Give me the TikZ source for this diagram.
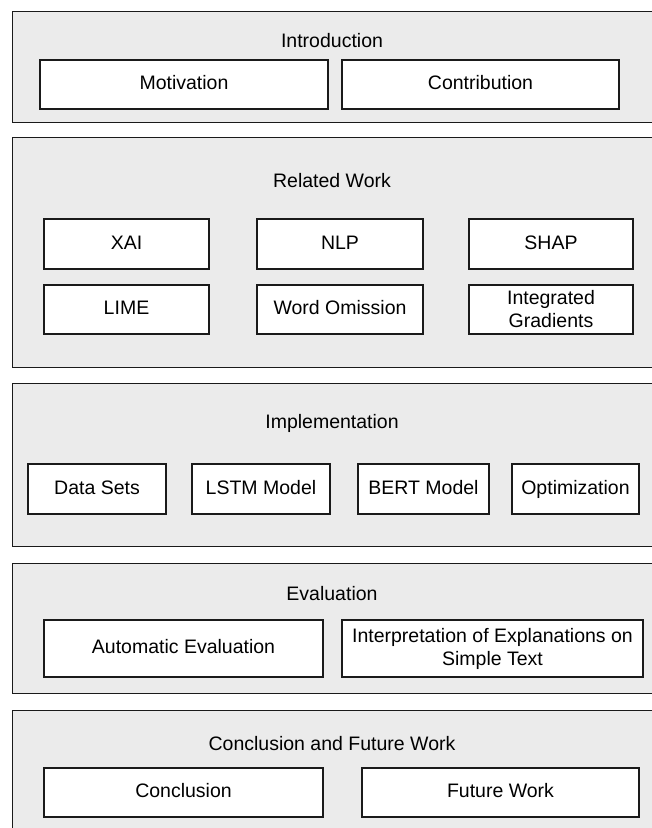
\documentclass[tikz,border=0pt]{standalone}
\usepackage{fontspec}
\setmainfont{Liberation Sans}
\definecolor{panelgray}{HTML}{EBEBEB}
\definecolor{edge}{HTML}{1A1A1A}
\begin{document}
\begin{tikzpicture}[x=1pt, y=-1pt,
  panel/.style={draw=edge, line width=1.3pt, fill=panelgray, anchor=north west, inner sep=0pt},
  title/.style={font=\fontsize{19.5}{23}\selectfont, text=black, inner sep=0pt,
    text height=14pt, text depth=4pt},
  box/.style={draw=edge, line width=1.3pt, fill=white, font=\fontsize{19.5}{23}\selectfont,
    align=center, inner sep=0pt, minimum height=#1},
  box/.default=49pt,
  item/.style={box=#1, text height=14pt, text depth=4pt},
  item/.default=49pt]
\useasboundingbox (0,0) rectangle (652,828);

% Introduction
\node[panel, minimum width=641pt, minimum height=111pt] (p1) at (12,11) {};
\node[title] (t1) at (332,42) {Introduction};
\node[item, minimum width=288pt] (motiv) at (184,84.5) {Motivation};
\node[item, minimum width=277pt] (contrib) at (480.5,84.5) {Contribution};

% Related Work
\node[panel, minimum width=641pt, minimum height=230pt] (p2) at (12,137) {};
\node[title] (t2) at (332,182) {Related Work};
\node[item=50pt, minimum width=165pt] (xai) at (126.5,244) {XAI};
\node[item=50pt, minimum width=166pt] (nlp) at (340,244) {NLP};
\node[item=50pt, minimum width=164pt] (shap) at (551,244) {SHAP};
\node[item, minimum width=165pt] (lime) at (126.5,309.5) {LIME};
\node[item, minimum width=166pt] (wordom) at (340,309.5) {Word Omission};
\node[box, minimum width=164pt] (ig) at (551,309.5) {Integrated\\Gradients};

% Implementation
\node[panel, minimum width=641pt, minimum height=163pt] (p3) at (12,383) {};
\node[title] (t3) at (332,423) {Implementation};
\node[item=50pt, minimum width=138pt] (data) at (97,489) {Data Sets};
\node[item=50pt, minimum width=138pt] (lstm) at (261,489) {LSTM Model};
\node[item=50pt, minimum width=131pt] (bert) at (423.5,489) {BERT Model};
\node[item=50pt, minimum width=127pt] (optim) at (575.5,489) {Optimization};

% Evaluation
\node[panel, minimum width=641pt, minimum height=130pt] (p4) at (12,563) {};
\node[title] (t4) at (332,595) {Evaluation};
\node[item=57pt, minimum width=279pt] (autoeval) at (183.5,648.5) {Automatic Evaluation};
\node[box=57pt, minimum width=301pt] (interp) at (492.5,648.5) {Interpretation of Explanations on\\Simple Text};

% Conclusion and Future Work
\node[panel, minimum width=641pt, minimum height=140pt] (p5) at (12,710) {};
\node[title] (t5) at (332,745) {Conclusion and Future Work};
\node[item, minimum width=279pt] (concl) at (183.5,792.5) {Conclusion};
\node[item, minimum width=277pt] (future) at (500.5,792.5) {Future Work};
\end{tikzpicture}
\end{document}
